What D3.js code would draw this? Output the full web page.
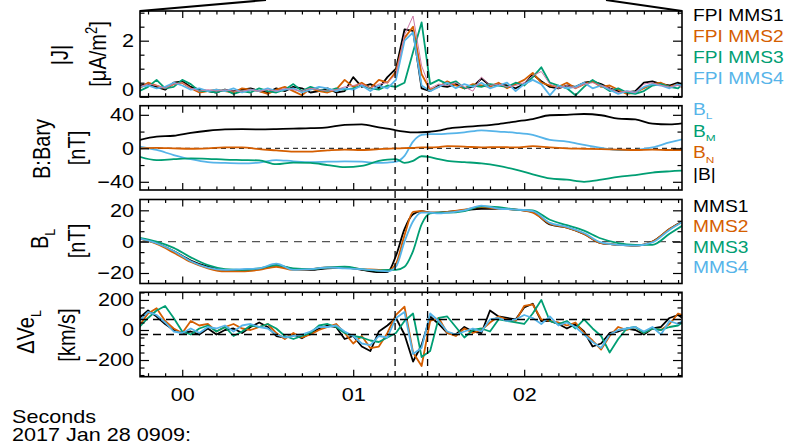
<!DOCTYPE html>
<html>
<head>
<meta charset="utf-8">
<script src="https://cdn.jsdelivr.net/npm/d3@7"></script>
<style>
  body { margin: 0; background: #fff; }
  svg { display: block; font-family: "Liberation Sans", Arial, sans-serif; }
</style>
</head>
<body>
<svg id="chart" width="790" height="444"></svg>
<script>
// ---- data (seconds after 2017-01-28 09:09:00) ----
const jTimes = [-0.25,-0.2,-0.15,-0.1,-0.05,0,0.05,0.1,0.15,0.2,0.25,0.3,0.35,0.4,0.45,0.5,0.55,0.6,0.65,0.7,
  0.75,0.8,0.85,0.9,0.95,1,1.05,1.1,1.15,1.2,1.25,1.3,1.35,1.4,1.45,1.5,1.55,1.6,1.65,1.7,
  1.75,1.8,1.85,1.9,1.95,2,2.05,2.1,2.15,2.2,2.25,2.3,2.35,2.4,2.45,2.5,2.55,2.6,2.65,2.7,
  2.75,2.8,2.85,2.9,2.95];

// |J| from FPI, uA/m^2
const jMms1 = [0.4,0.45,0.35,0.25,0.5,0.55,0.35,0.25,0.2,0.15, 0.25,0.2,0.25,0.3,0.2,0.15,0.3,0.2,0.35,0.3,
  0.15,0.2,0.3,0.15,0.2,0.7,0.35,0.45,0.3,0.7, 1.0,2.4,2.35,0.3,0.2,0.4,0.35,0.45,0.3,0.35,
  0.65,0.4,0.45,0.4,0.3,0.45,0.8,0.55,0.35,0.3, 0.4,0.35,0.5,0.55,0.45,0.3,0.2,0.15,0.2,0.5,
  0.55,0.45,0.4,0.5,0.35];
const jMms2 = [0.3,0.5,0.4,0.3,0.45,0.5,0.3,0.15,0.2,0.25, 0.2,0.15,0.3,0.25,0.2,0.1,0.25,0.35,0.2,0.05,
  0.3,0.2,0.15,0.25,0.6,0.35,0.5,0.3,0.6,0.5, 0.9,2.1,2.5,0.8,0.25,0.35,0.55,0.4,0.3,0.45,
  0.4,0.35,0.5,0.3,0.45,0.6,0.85,0.5,0.4,0.35, 0.5,0.3,0.45,0.55,0.35,0.4,0.25,0.1,0.15,0.3,
  0.45,0.5,0.35,0.45,0.2];
const jMms3 = [0.2,0.35,0.6,0.3,0.35,0.6,0.45,0.2,0.2,0.15, 0.25,0.1,0.2,0.15,0.3,0.2,0.15,0.25,0.45,0.2,
  0.35,0.25,0.2,0.3,0.25,0.3,0.4,0.3,0.25,0.4, 0.35,0.5,1.6,2.65,0.45,0.6,0.45,0.55,0.3,0.4,
  0.35,0.45,0.4,0.35,0.5,0.4,0.7,1.05,0.5,0.4, 0.3,0.05,0.35,0.6,0.4,0.2,0.3,0.15,0.1,0.2,
  0.4,0.45,0.35,0.3,0.6];
const jMms4 = [0.35,0.4,0.3,0.35,0.5,0.4,0.25,0.3,0.2,0.25, 0.2,0.3,0.15,0.25,0.2,0.3,0.2,0.25,0.3,0.15,
  0.25,0.35,0.3,0.2,0.3,0.25,0.4,0.2,0.4,0.3, 0.6,2.0,2.3,0.4,0.2,0.35,0.5,0.3,0.45,0.35,
  0.5,0.3,0.4,0.5,0.2,0.45,0.6,0.45,0.05,0.4, 0.3,0.35,0.5,0.3,0.4,0.25,0.1,0.2,0.15,0.35,
  0.45,0.4,0.3,0.45,0.3];
const jCurl = [0.35,0.45,0.4,0.3,0.45,0.5,0.3,0.2,0.25,0.2, 0.25,0.2,0.2,0.25,0.2,0.25,0.2,0.3,0.25,0.2,
  0.3,0.25,0.2,0.25,0.35,0.4,0.45,0.3,0.45,0.5, 0.8,2.2,2.88,1.1,0.3,0.45,0.4,0.5,0.35,0.2,
  0.7,0.4,0.45,0.35,0.4,0.5,0.75,0.9,0.45,0.3, 0.4,0.3,0.45,0.5,0.4,0.3,0.15,0.2,0.15,0.45,
  0.5,0.4,0.35,0.4,0.3];

// delta Ve_L, km/s
const dveMms1 = [80,130,90,40,0,-20,-10,-30,10,-30, 0,10,-20,20,50,20,-40,-50,-30,-55,
  -20,10,30,20,-60,-40,-110,-140,-10,30, 80,-30,-210,-100,90,40,-20,-30,20,-10,
  -20,130,90,80,70,150,175,60,60,40, 10,40,-10,-110,-90,-20,-10,10,0,-30,
  10,20,80,100,60];
const dveMms2 = [30,110,145,60,10,-20,60,30,40,-10, 20,40,10,0,20,40,-20,-60,-20,-50,
  -30,0,20,40,-20,-90,-40,-120,-110,-20, 100,155,-150,-240,60,80,-20,-40,10,-20,
  0,50,90,70,60,160,170,70,60,50, 30,50,-20,-70,-130,-40,20,0,20,-20,
  10,0,40,110,90];
const dveMms3 = [20,80,130,160,80,-10,-30,10,30,-10, 20,-40,-10,30,20,40,10,-40,-60,-40,
  -20,30,40,20,-20,-40,-50,-70,-80,-50, -20,60,110,-180,-140,80,90,20,-50,0,
  10,-10,70,60,50,40,110,200,60,40, 60,10,70,10,-40,-150,-60,10,20,-20,
  10,0,20,30,70];
const dveMms4 = [60,120,100,50,-10,-20,10,-20,20,10, 30,-10,30,40,20,10,-30,-50,-40,-30,
  -10,20,20,30,-10,-40,-90,-100,-40,-50, 80,120,-160,-120,110,60,-10,-30,-10,10,
  -10,70,80,60,70,100,80,40,90,30, 50,20,-30,-80,-120,-30,0,10,20,-10,
  20,-30,60,40,80];
const dveLevels = [70, -30];

// magnetic field, nT
const bTimes = [-0.25,-0.15,-0.05,0.05,0.15,0.25,0.35,0.45,0.55,0.65,0.75,0.85,0.95,1.05,1.15,
  1.2,1.25,1.3,1.35,1.4,1.45,1.5,1.55,
  1.65,1.75,1.85,1.95,2.05,2.15,2.25,2.35,2.45,2.55,2.65,2.75,2.85,2.95];

const baryBL = [2,-2,-8,-13,-16.5,-17.5,-18,-17,-14,-15.5,-16.5,-16,-15.5,-16,-17.5,
  -17,-16,-9,8,16,17,17,17.5,
  19,21.5,20,18.5,16,10,8,4,0.5,-2,-2,1,7,12];
const baryBM = [-10,-14,-13,-12,-12.5,-13.5,-14,-14.5,-19,-17,-17.5,-20,-22.5,-21,-15,
  -13.5,-13,-17.5,-15,-9.5,-10.5,-13,-15,
  -16.5,-18,-21,-25.5,-31,-36,-37.5,-40,-37.5,-34,-32,-29,-27.5,-26.5];
const baryBN = [0,0.5,0,-0.5,0,1,1,-1,-2.5,-4,-4,-2.5,-1.5,-2,-1,
  -0.5,0,0.3,0.5,1,1,1.5,2.5,
  2,1,1.5,1,2.5,1,0,-0.5,-1,-1.5,-2,-1.5,-2,-2];
const baryBt = [10,14,15,18.5,21,22.5,22.8,22.7,23,23.5,24,25,28,28.5,25,
  23.5,21.5,20,19,19.2,19.8,21,23.5,
  25.5,27,29,32,35,39.5,40,41,39.5,35.5,34.5,29.5,28.5,30.5];

const blMms1 = [2,-1,-6,-12,-16,-18,-18,-17.5,-15,-17.5,-18,-17,-16.5,-18,-19.5,
  -19.5,-9,8,17.5,19.5,18.5,18.5,19,
  20,21,21,20.5,19,11,9,5,-1,-2,-2.5,0,8,14.5];
const blMms2 = [2,-1.5,-7,-13,-17,-19,-19,-18,-16,-18,-17.5,-16.5,-16.5,-17.5,-18,
  -18.5,-14,4,19,19.5,18.5,18.5,19,
  20.5,22,21,20.5,18.5,11.5,9,5,-1,-2,-2.5,0,8,14];
const blMms3 = [2.5,0,-4,-10,-15,-17.5,-18,-17,-15,-17,-17.5,-16.5,-16,-17.5,-18.5,
  -18,-18,-16,-6,11,18,18.5,18.5,
  19.5,22.5,22,20.5,20,14,10.5,7,2,-1,-2,-2,5,12];
const blMms4 = [2,-1,-6,-12.5,-16.5,-18,-17.5,-17,-14,-18,-17.5,-16.5,-17,-17.5,-18.5,
  -19,-16,0,13,18.5,18.5,18,18.5,
  20,23,21,20.5,19.5,12,9.5,5.5,-0.5,-2,-2.5,-0.5,7.5,14];

// crossing interval marked by dashed lines
const markTimes = [1.245, 1.435];
const xMajor = [0, 1, 2];

// ---- layout ----
const svg = d3.select("#chart");
const left = 140, right = 682;
const SX = 1.2;   // original figure text is stretched horizontally
const col = {k: "#000000", o: "#D55E00", g: "#009E73", b: "#56B4E9", p: "#CC79A7"};

const x = d3.scaleLinear().domain([-0.247, 2.923]).range([left, right]);

const panels = [
  {top: 11, bottom: 96.7, domain: [0, 3.06], major: [0, 2], minor: [0.5, 1, 1.5, 2.5, 3]},
  {top: 105.7, bottom: 190, domain: [-49.8, 50.9], major: [-40, 0, 40], minor: [-20, 20]},
  {top: 199.5, bottom: 283.5, domain: [-26.7, 26.9], major: [-20, 0, 20], minor: [-13.33, -6.67, 6.67, 13.33]},
  {top: 292.3, bottom: 376.7, domain: [-311, 251], major: [-200, 0, 200], minor: [-300, -250, -150, -100, -50, 50, 100, 150, 250]}
];

panels.forEach(function(p, i) {
  p.y = d3.scaleLinear().domain(p.domain).range([p.bottom, p.top]);
  svg.append("clipPath").attr("id", "clip" + i)
    .append("rect").attr("x", left).attr("y", p.top)
    .attr("width", right - left).attr("height", p.bottom - p.top);
  p.g = svg.append("g").attr("clip-path", "url(#clip" + i + ")");
});

function drawLine(p, times, vals, color, width, curve) {
  const line = d3.line()
    .x(function(d, i) { return x(times[i]); })
    .y(function(d) { return p.y(d); })
    .curve(curve || d3.curveLinear);
  p.g.append("path").datum(vals)
    .attr("d", line)
    .attr("fill", "none")
    .attr("stroke", color)
    .attr("stroke-width", width)
    .attr("stroke-linejoin", "round");
}

function hDash(p, v, color, width, dash) {
  p.g.append("line")
    .attr("x1", left).attr("x2", right)
    .attr("y1", p.y(v)).attr("y2", p.y(v))
    .attr("stroke", color).attr("stroke-width", width)
    .attr("stroke-dasharray", dash);
}

function addText(xp, yp, size, color, rot) {
  return svg.append("text")
    .attr("transform", "translate(" + xp + "," + yp + ") scale(" + SX + ",1)" + (rot ? " rotate(-90)" : ""))
    .attr("font-size", size)
    .attr("fill", color)
    .attr("text-anchor", rot ? "middle" : "start")
    .attr("dy", rot ? "0.35em" : null);
}

function sub(t, s, size) {
  t.append("tspan").attr("font-size", size * 0.62).attr("dy", size * 0.28).text(s);
}

// ---- panel 1: |J| ----
const p1 = panels[0];
drawLine(p1, jTimes, jMms1, col.k, 1.8);
drawLine(p1, jTimes, jMms2, col.o, 1.8);
drawLine(p1, jTimes, jMms3, col.g, 1.8);
drawLine(p1, jTimes, jMms4, col.b, 1.8);
drawLine(p1, jTimes, jCurl, col.p, 1);

// ---- panel 2: B in barycentre ----
const p2 = panels[1];
hDash(p2, 0, "#000", 1, "5,4");
drawLine(p2, bTimes, baryBL, col.b, 1.8, d3.curveMonotoneX);
drawLine(p2, bTimes, baryBM, col.g, 1.8, d3.curveMonotoneX);
drawLine(p2, bTimes, baryBN, col.o, 1.8, d3.curveMonotoneX);
drawLine(p2, bTimes, baryBt, col.k, 1.8, d3.curveMonotoneX);

// ---- panel 3: B_L per spacecraft ----
const p3 = panels[2];
hDash(p3, 0, "#555", 1.3, "8,6");
drawLine(p3, bTimes, blMms1, col.k, 1.8, d3.curveMonotoneX);
drawLine(p3, bTimes, blMms2, col.o, 1.8, d3.curveMonotoneX);
drawLine(p3, bTimes, blMms3, col.g, 1.8, d3.curveMonotoneX);
drawLine(p3, bTimes, blMms4, col.b, 1.8, d3.curveMonotoneX);

// ---- panel 4: delta Ve_L ----
const p4 = panels[3];
drawLine(p4, jTimes, dveMms1, col.k, 1.8);
drawLine(p4, jTimes, dveMms2, col.o, 1.8);
drawLine(p4, jTimes, dveMms3, col.g, 1.8);
drawLine(p4, jTimes, dveMms4, col.b, 1.8);
dveLevels.forEach(function(v) { hDash(p4, v, "#000", 1.6, "8,5"); });

// ---- frames and ticks ----
const xMinor = d3.range(-0.2, 2.95, 0.1).filter(function(t) { return Math.abs(t - Math.round(t)) > 0.01; });

panels.forEach(function(p, i) {
  const last = i === panels.length - 1;
  const ax = svg.append("g");

  ax.append("g").attr("transform", "translate(" + left + ",0)")
    .call(d3.axisLeft(p.y).tickValues(p.major).tickSize(-9).tickPadding(6).tickFormat(d3.format("d")));
  ax.append("g").attr("transform", "translate(" + left + ",0)")
    .call(d3.axisLeft(p.y).tickValues(p.minor).tickSize(-4.5).tickFormat(""));
  ax.append("g").attr("transform", "translate(" + right + ",0)")
    .call(d3.axisRight(p.y).tickValues(p.major).tickSize(-9).tickFormat(""));
  ax.append("g").attr("transform", "translate(" + right + ",0)")
    .call(d3.axisRight(p.y).tickValues(p.minor).tickSize(-4.5).tickFormat(""));

  ax.append("g").attr("transform", "translate(0," + p.top + ")")
    .call(d3.axisTop(x).tickValues(xMajor).tickSize(-7).tickFormat(""));
  ax.append("g").attr("transform", "translate(0," + p.top + ")")
    .call(d3.axisTop(x).tickValues(xMinor).tickSize(-3.5).tickFormat(""));
  ax.append("g").attr("class", "xbot").attr("transform", "translate(0," + p.bottom + ")")
    .call(d3.axisBottom(x).tickValues(xMajor).tickSize(-7).tickPadding(12)
      .tickFormat(last ? d3.format("02d") : ""));
  ax.append("g").attr("transform", "translate(0," + p.bottom + ")")
    .call(d3.axisBottom(x).tickValues(xMinor).tickSize(-3.5).tickFormat(""));

  ax.selectAll(".domain").remove();
  ax.selectAll(".tick line").attr("stroke", "#000").attr("stroke-width", 1.2);
  ax.selectAll(".tick text")
    .attr("font-family", "Liberation Sans, Arial, sans-serif")
    .attr("font-size", 18)
    .attr("fill", "#000")
    .attr("transform", "scale(" + SX + ",1)")
    .each(function() {
      const t = d3.select(this);
      if (t.attr("x") !== null) t.attr("x", +t.attr("x") / SX);
    });

  // the bottom "0" of the top panel sits a bit above its tick
  if (i === 0) {
    ax.selectAll(".tick text").filter(function(d) { return d === 0; }).attr("y", -7);
  }

  svg.append("rect")
    .attr("x", left).attr("y", p.top)
    .attr("width", right - left).attr("height", p.bottom - p.top)
    .attr("fill", "none").attr("stroke", "#000").attr("stroke-width", 1.6);
});

// crossing markers spanning all panels
markTimes.forEach(function(t) {
  svg.append("line")
    .attr("x1", x(t)).attr("x2", x(t))
    .attr("y1", panels[0].top).attr("y2", panels[3].bottom)
    .attr("stroke", "#000").attr("stroke-width", 1.3)
    .attr("stroke-dasharray", "7,5");
});

// zoom lines up to the parent plot
svg.append("line").attr("x1", left).attr("y1", panels[0].top).attr("x2", 266).attr("y2", 0)
  .attr("stroke", "#000").attr("stroke-width", 2);
svg.append("line").attr("x1", right).attr("y1", panels[0].top).attr("x2", 606).attr("y2", 0)
  .attr("stroke", "#000").attr("stroke-width", 2);

// ---- y titles ----
addText(60, 55, 20, "#000", true).text("|J|");
let t = addText(98, 54, 20, "#000", true);
t.append("tspan").text("[\u03bcA/m");
t.append("tspan").attr("font-size", 13).attr("dy", -8).text("2");
t.append("tspan").attr("dy", 8).text("]");

addText(42, 149, 20, "#000", true).text("B:Bary");
addText(77, 148, 20, "#000", true).text("[nT]");

t = addText(40, 239, 20, "#000", true);
t.append("tspan").text("B");
sub(t, "L", 20);
addText(77, 241, 20, "#000", true).text("[nT]");

t = addText(26, 332, 20, "#000", true);
t.append("tspan").text("\u0394Ve");
sub(t, "L", 20);
addText(67, 335, 20, "#000", true).text("[km/s]");

// ---- legends ----
const lx = 693;
[["FPI MMS1", col.k], ["FPI MMS2", col.o], ["FPI MMS3", col.g], ["FPI MMS4", col.b]]
  .forEach(function(d, i) { addText(lx, 20.5 + 21 * i, 16, d[1]).text(d[0]); });

[["B", "L", col.b], ["B", "M", col.g], ["B", "N", col.o]].forEach(function(d, i) {
  const tt = addText(lx, 115 + 21.7 * i, 16, d[2]);
  tt.append("tspan").text(d[0]);
  sub(tt, d[1], 16);
});
addText(lx, 180, 16, col.k).text("|B|");

[["MMS1", col.k], ["MMS2", col.o], ["MMS3", col.g], ["MMS4", col.b]]
  .forEach(function(d, i) { addText(lx, 211.5 + 20.5 * i, 16, d[1]).text(d[0]); });

// ---- time labels ----
addText(12, 423, 18, "#000").text("Seconds");
addText(12, 441, 18, "#000").text("2017 Jan 28 0909:");
</script>
</body>
</html>
